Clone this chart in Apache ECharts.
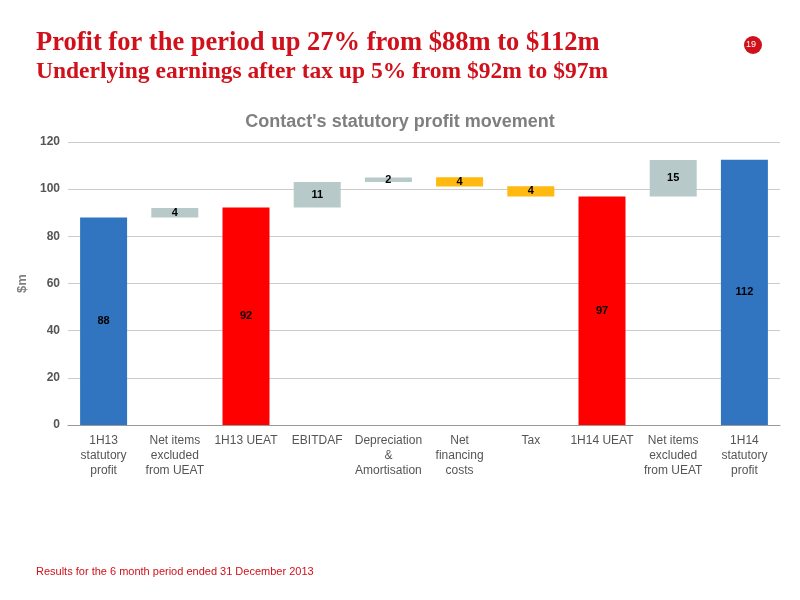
<!DOCTYPE html>
<html><head><meta charset="utf-8">
<script src="https://cdn.jsdelivr.net/npm/echarts@6/dist/echarts.min.js"></script>
<style>body{margin:0;background:#fff}#c{width:800px;height:600px}</style></head>
<body><div id="c"></div>
<script>
const categories = ['1H13\nstatutory\nprofit','Net items\nexcluded\nfrom UEAT','1H13 UEAT','EBITDAF','Depreciation\n&\nAmortisation','Net\nfinancing\ncosts','Tax','1H14 UEAT','Net items\nexcluded\nfrom UEAT','1H14\nstatutory\nprofit'];
const bases = [0, 88, 0, 92.2, 103, 101.1, 96.9, 0, 96.9, 0];
const heights = [88, 4, 92.2, 10.8, 2, 4, 4.3, 96.9, 15.5, 112.5];
const labels = ['88','4','92','11','2','4','4','97','15','112'];
const colors = ['#3174C0','#B8C9C9','#FF0000','#B8C9C9','#B8C9C9','#FFB90F','#FFB90F','#FF0000','#B8C9C9','#3174C0'];
const yTicks = [0,20,40,60,80,100,120];
const c = echarts.init(document.getElementById('c'));
c.setOption({
  animation:false,
  graphic:[
    {type:'text',left:36,top:30,style:{text:'Profit for the period up 27% from $88m to $112m',font:'bold 26.5px "Liberation Serif", serif',fill:'#D0101A'}},
    {type:'text',left:36,top:60,style:{text:'Underlying earnings after tax up 5% from $92m to $97m',font:'bold 23.5px "Liberation Serif", serif',fill:'#D0101A'}},
    {type:'circle',shape:{cx:753,cy:45,r:9},style:{fill:'#D0101A'}},
    {type:'text',left:746,top:40,style:{text:'19',font:'9px sans-serif',fill:'#fff'}},
    {type:'text',left:36,top:566,style:{text:'Results for the 6 month period ended 31 December 2013',font:'11px "Liberation Sans", Arial',fill:'#D0101A'}}
  ],
  title:{text:"Contact's statutory profit movement",left:'center',top:108,textStyle:{fontSize:18,fontWeight:'bold',color:'#7F7F7F',fontFamily:'Liberation Sans'}},
  grid:{left:68,right:20,top:142,bottom:175},
  xAxis:{type:'category',data:categories,axisTick:{show:false},axisLine:{lineStyle:{color:'#999'}},
    axisLabel:{interval:0,color:'#555',fontSize:12,lineHeight:15,fontFamily:'Liberation Sans'}},
  yAxis:{type:'value',min:0,max:120,interval:20,name:'$m',nameLocation:'middle',nameGap:38,
    nameTextStyle:{color:'#7F7F7F',fontWeight:'bold',fontSize:13},
    axisLabel:{color:'#555',fontSize:12,fontWeight:'bold',formatter:v=>yTicks.includes(v)?String(v):''},
    splitLine:{lineStyle:{color:'#ccc'}},axisLine:{show:false}},
  series:[
    {type:'bar',stack:'a',data:bases,itemStyle:{color:'transparent'},barWidth:'66%'},
    {type:'bar',stack:'a',data:heights.map((h,i)=>({value:h,itemStyle:{color:colors[i]}})),
     label:{show:true,position:'inside',color:'#000',fontSize:11,fontWeight:'bold',formatter:p=>labels[p.dataIndex]}}
  ]
});
</script></body></html>
